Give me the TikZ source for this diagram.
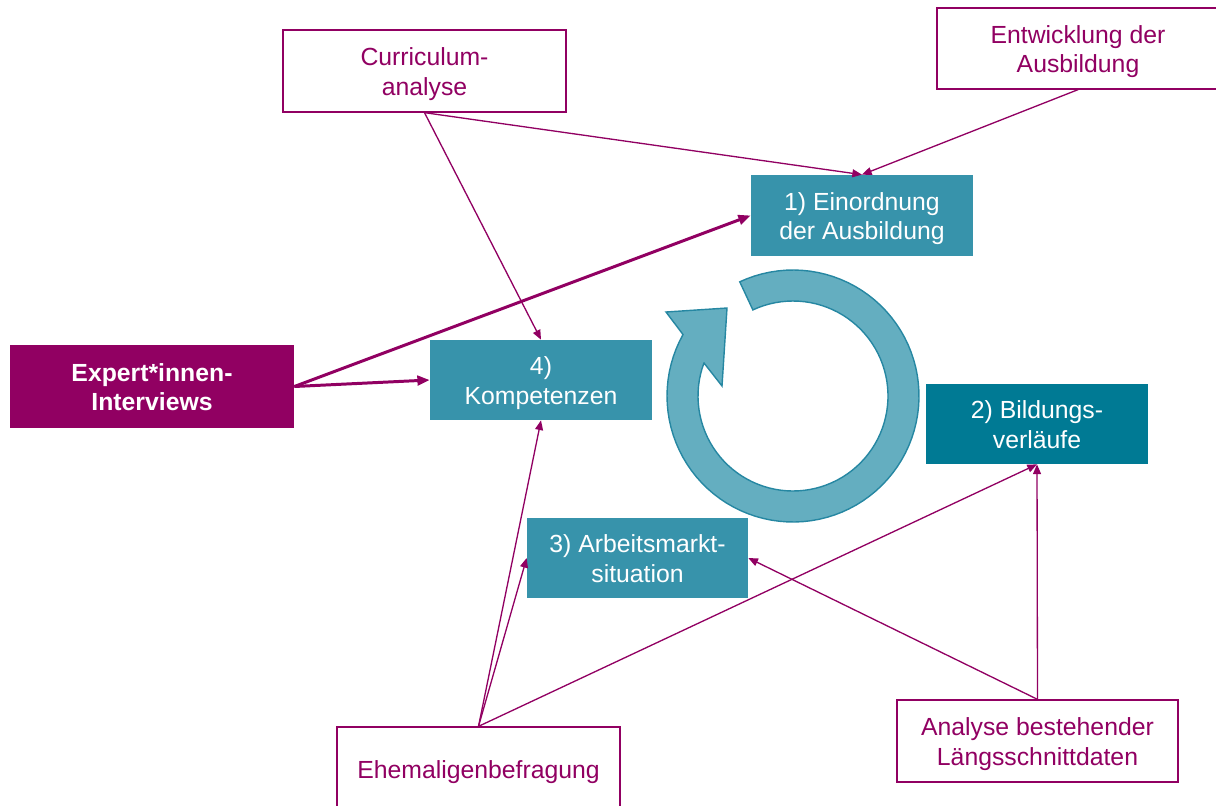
\documentclass[tikz,border=0pt]{standalone}
\usepackage{fontspec}
\setmainfont{Liberation Sans}
\usetikzlibrary{arrows.meta}
\definecolor{purp}{RGB}{145,0,98}
\definecolor{tealA}{RGB}{55,147,171}
\definecolor{tealB}{RGB}{0,122,148}
\definecolor{ringfill}{RGB}{100,174,192}
\definecolor{ringline}{RGB}{38,135,162}
\begin{document}
\begin{tikzpicture}[x=0.02cm,y=-0.02cm,
  txt/.style={font=\fontsize{14.1}{16.9}\selectfont, align=center, inner sep=0pt, text height=27.6pt, text depth=0pt},
  oneline/.style={text height=9.1pt, text depth=0pt},
  whitebox/.style={txt, draw=purp, line width=0.75pt, fill=white, text=purp},
  tealbox/.style={txt, fill=tealA, text=white},
  conn/.style={draw=purp, line width=0.75pt, -{Triangle[length=5.5pt,width=4.5pt]}},
  thickconn/.style={draw=purp, line width=1.7pt, -{Triangle[length=7pt,width=5.5pt]}}]
\useasboundingbox (0,0) rectangle (1216,805);
% boxes
\node[whitebox, minimum width=5.66cm, minimum height=1.64cm] (cur) at (424.5,71) {Curriculum-\\analyse};
\node[whitebox, minimum width=5.64cm, minimum height=1.62cm] (ent) at (1078,48.5) {Entwicklung der\\Ausbildung};
\node[tealbox, minimum width=4.44cm, minimum height=1.62cm] (ein) at (862,215.5) {1) Einordnung\\der Ausbildung};
\node[txt, fill=purp, text=white, font=\fontsize{14.1}{16.9}\selectfont\bfseries, minimum width=5.68cm, minimum height=1.66cm] (exp) at (152,386.5) {Expert*innen-\\Interviews};
\node[tealbox, minimum width=4.44cm, minimum height=1.6cm] (kom) at (541,380) {4)\\Kompetenzen};
\node[tealbox, fill=tealB, minimum width=4.44cm, minimum height=1.6cm] (bil) at (1037,424) {2) Bildungs-\\verläufe};
\node[tealbox, minimum width=4.42cm, minimum height=1.6cm] (arb) at (637.5,558) {3) Arbeitsmarkt-\\situation};
\node[whitebox, oneline, minimum width=5.66cm, minimum height=1.72cm] (ehe) at (478.5,770) {Ehemaligenbefragung};
\node[whitebox, minimum width=5.62cm, minimum height=1.64cm] (ana) at (1037.5,741) {Analyse bestehender\\Längsschnittdaten};
% circular arrow
\filldraw[fill=ringfill, draw=ringline, line width=0.8pt]
  plot[domain=-115:209.2, samples=90] ({793+126*cos(\x)},{396+126*sin(\x)})
  -- (666,312) -- (727,308) -- (722,386) -- (704,363)
  -- plot[domain=200.3:-115, samples=90] ({793+95*cos(\x)},{396+95*sin(\x)})
  -- cycle;
% connectors
\draw[conn] (cur.south) -- (kom.north);
\draw[conn] (cur.south) -- (ein.north);
\draw[conn] (ent.south) -- (ein.north);
\draw[thickconn] (exp.east) -- (ein.west);
\draw[thickconn] (exp.east) -- (kom.west);
\draw[conn] (ehe.north) -- (kom.south);
\draw[conn] (ehe.north) -- (arb.west);
\draw[conn] (ehe.north) -- (bil.south);
\draw[conn] (ana.north) -- (bil.south);
\draw[conn] (ana.north) -- (arb.east);
\end{tikzpicture}
\end{document}
